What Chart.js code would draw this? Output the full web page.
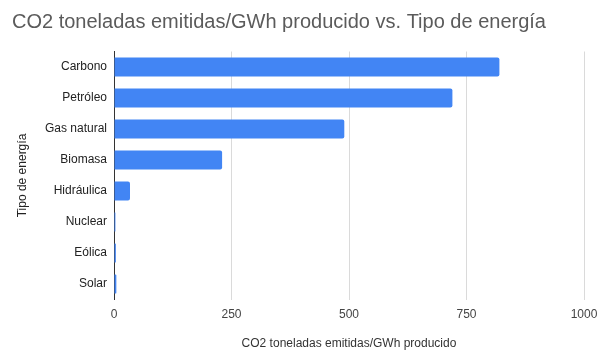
<!DOCTYPE html>
<html>
<head>
<meta charset="utf-8">
<script src="https://cdn.jsdelivr.net/npm/chart.js@4/dist/chart.umd.min.js"></script>
<style>
html,body{margin:0;padding:0;background:#fff;}
#wrap{width:600px;height:359px;position:relative;}
</style>
</head>
<body>
<div id="wrap"><canvas id="c"></canvas></div>
<script>
const categories = ["Carbono","Petróleo","Gas natural","Biomasa","Hidráulica","Nuclear","Eólica","Solar"];
const values = [820, 720, 490, 230, 34, 3, 4, 5];
const xTicks = [0, 250, 500, 750, 1000];
const titleText = "CO2 toneladas emitidas/GWh producido vs. Tipo de energía";
const xTitle = "CO2 toneladas emitidas/GWh producido";
const yTitle = "Tipo de energía";

const FONT = "'Liberation Sans', Arial, sans-serif";

new Chart(document.getElementById('c'), {
  type: 'bar',
  data: {
    labels: categories,
    datasets: [{
      data: values,
      backgroundColor: '#4285f4',
      borderColor: '#3b78e0',
      borderWidth: 0,
      borderRadius: 2,
      borderSkipped: 'start',
      categoryPercentage: 1,
      barPercentage: 0.62
    }]
  },
  options: {
    indexAxis: 'y',
    responsive: true,
    maintainAspectRatio: false,
    animation: false,
    layout: { padding: { left: 12, right: 16, top: 0, bottom: 8 } },
    plugins: {
      legend: { display: false },
      tooltip: { enabled: false },
      title: {
        display: true,
        text: titleText,
        align: 'start',
        color: '#5b5b5b',
        font: { family: FONT, size: 20, weight: 'normal' },
        padding: { top: 10, bottom: 17.5 }
      }
    },
    scales: {
      x: {
        min: 0, max: 1000,
        afterBuildTicks: s => { s.ticks = xTicks.map(v => ({ value: v })); },
        afterFit: s => { s.height = 51.5; s.paddingRight = 0; s.paddingLeft = 0; },
        grid: {
          color: ctx => ctx.tick && ctx.tick.value === 0 ? 'rgba(0,0,0,0)' : '#dadada',
          drawTicks: false,
          lineWidth: 1
        },
        border: { display: false },
        ticks: {
          color: '#444',
          font: { family: FONT, size: 12 },
          padding: 8,
          callback: v => String(v)
        },
        title: {
          display: true,
          text: xTitle,
          color: '#333',
          font: { family: FONT, size: 12 },
          padding: { top: 3, bottom: 0 }
        }
      },
      y: {
        afterFit: s => { s.width = 102; },
        grid: { display: false, drawTicks: false },
        border: { display: true, color: '#333', width: 1 },
        ticks: {
          color: '#222',
          font: { family: FONT, size: 12 },
          padding: 7
        },
        title: {
          display: true,
          text: yTitle,
          color: '#222',
          font: { family: FONT, size: 12 },
          padding: { top: 3, bottom: 0 }
        }
      }
    }
  }
});
</script>
</body>
</html>
